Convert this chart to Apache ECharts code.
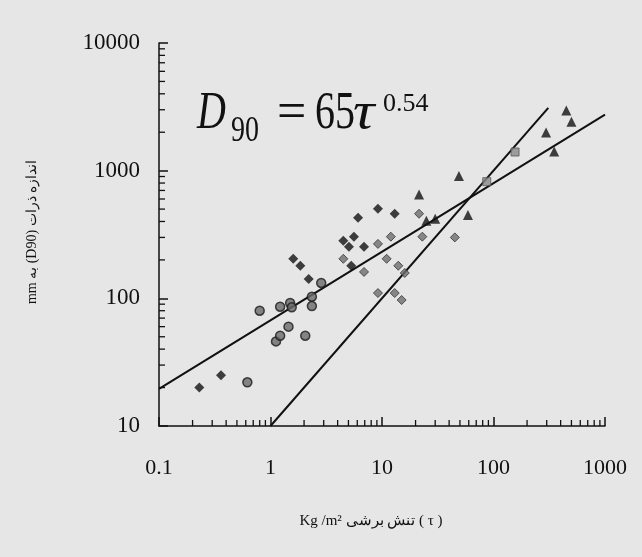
<!DOCTYPE html>
<html>
<head>
<meta charset="utf-8">
<script src="https://cdn.jsdelivr.net/npm/echarts@6/dist/echarts.min.js"></script>
<style>
html,body{margin:0;padding:0;background:#e6e6e6;}
#c{width:642px;height:557px;}
</style>
</head>
<body>
<div id="c"></div>
<script>
// ---- data (tau in Kg/m2, D90 in mm) ----
const circlePts = [[0.62,22],[0.8,80],[1.12,46],[1.22,51],[1.22,86],[1.45,60],[1.5,92],[1.55,85],[2.05,51],[2.35,103],[2.35,87],[2.85,132]];
const diamondPts = [[0.23,20],[0.36,25],[1.6,204],[1.85,180],[2.2,142],[4.5,282],[5.05,253],[5.6,304],[6.1,428],[9.2,503],[13,460],[6.9,253],[5.3,180]];
const grayPts = [[4.5,204],[6.9,161],[9.2,267],[12,304],[11,204],[14,180],[16,158],[9.2,110],[13,110],[15,97],[21.5,460],[23,304],[45,300]];
const squarePts = [[87,820],[156,1400]];
const trianglePts = [[21.5,650],[25,405],[30,420],[49,910],[59,450],[296,1990],[350,1410],[450,2960],[500,2420]];
const fitLineA = [[0.1,19.5],[1000,2750]];   // D90 = 65 tau^0.54
const fitLineB = [[1,10],[310,3100]];
const xMinorTicks = [0.2,0.3,0.4,0.5,0.6,0.7,0.8,0.9,2,3,4,5,6,7,8,9,20,30,40,50,60,70,80,90,200,300,400,500,600,700,800,900];
const yMinorTicks = [20,30,40,50,60,70,80,90,200,300,400,500,600,700,800,900,2000,3000,4000,5000,6000,7000,8000,9000];
const xName = 'Kg /m² تنش برشی ( τ )';
const yName = 'mm به (D90) اندازه ذرات';

const serif = 'Liberation Serif, DejaVu Serif, serif';
const chart = echarts.init(document.getElementById('c'));

const axisCommon = {
  type: 'log', logBase: 10,
  axisLine: {show: true, lineStyle: {color: '#111', width: 1.5}},
  axisTick: {show: true, inside: true, length: 9, lineStyle: {color: '#111', width: 1.5}},
  splitLine: {show: false}
};

function tickItem(isX, len) {
  return function (params, api) {
    const p = api.coord([api.value(0), api.value(1)]);
    return {
      type: 'line',
      shape: isX ? {x1: p[0], y1: p[1], x2: p[0], y2: p[1] - len}
                 : {x1: p[0], y1: p[1], x2: p[0] + len, y2: p[1]},
      style: {stroke: '#111', lineWidth: 1.3, fill: null}
    };
  };
}

chart.setOption({
  backgroundColor: '#e6e6e6',
  animation: false,
  grid: {left: 159, right: 37, top: 43, bottom: 131, containLabel: false},
  xAxis: Object.assign({}, axisCommon, {
    min: 0.1, max: 1000,
    axisLabel: {fontFamily: serif, fontSize: 22, color: '#111', margin: 31, formatter: v => String(v)}
  }),
  yAxis: Object.assign({}, axisCommon, {
    min: 10, max: 10000,
    axisLabel: {fontFamily: serif, fontSize: 23, color: '#111', margin: 19, formatter: v => String(v)}
  }),
  series: [
    {type: 'custom', coordinateSystem: 'cartesian2d', data: xMinorTicks.map(v => [v, 10]),
     encode: {x: 0, y: 1}, renderItem: tickItem(true, 6), clip: false, silent: true, z: 5},
    {type: 'custom', coordinateSystem: 'cartesian2d', data: yMinorTicks.map(v => [0.1, v]),
     encode: {x: 0, y: 1}, renderItem: tickItem(false, 6), clip: false, silent: true, z: 5},
    {type: 'line', data: fitLineA, symbol: 'none', lineStyle: {color: '#111', width: 2}, z: 3, silent: true},
    {type: 'line', data: fitLineB, symbol: 'none', lineStyle: {color: '#111', width: 2}, z: 3, silent: true},
    {type: 'scatter', data: circlePts, symbol: 'circle', symbolSize: 9,
     itemStyle: {color: '#6a6a6a', borderColor: '#1a1a1a', borderWidth: 1.5}, z: 4},
    {type: 'scatter', data: diamondPts, symbol: 'diamond', symbolSize: 10,
     itemStyle: {color: '#111'}, z: 4},
    {type: 'scatter', data: grayPts, symbol: 'diamond', symbolSize: 9,
     itemStyle: {color: '#6e6e6e', borderColor: '#333', borderWidth: 1}, z: 4},
    {type: 'scatter', data: squarePts, symbol: 'rect', symbolSize: 8,
     itemStyle: {color: '#8a8a8a', borderColor: '#555', borderWidth: 1}, z: 4},
    {type: 'scatter', data: trianglePts, symbol: 'triangle', symbolSize: 10,
     itemStyle: {color: '#111'}, z: 4}
  ],
  graphic: [
    {type: 'text', x: 197, y: 114, scaleY: 1.3, style: {text: 'D', font: 'italic 40px ' + serif, fill: '#111', verticalAlign: 'middle'}},
    {type: 'text', x: 231, y: 131, scaleY: 1.3, style: {text: '90', font: '28px ' + serif, fill: '#111', verticalAlign: 'middle'}},
    {type: 'text', x: 277, y: 114, scaleY: 1.3, scaleX: 1.3, style: {text: '=', font: '40px ' + serif, fill: '#111', verticalAlign: 'middle'}},
    {type: 'text', x: 315, y: 114, scaleY: 1.3, style: {text: '65', font: '40px ' + serif, fill: '#111', verticalAlign: 'middle'}},
    {type: 'text', x: 353, y: 114, scaleY: 1.3, scaleX: 1.5, style: {text: 'τ', font: 'italic 40px ' + serif, fill: '#111', verticalAlign: 'middle'}},
    {type: 'text', x: 383, y: 104, style: {text: '0.54', font: '26px ' + serif, fill: '#111', verticalAlign: 'middle'}},
    {type: 'text', x: 371, y: 521, style: {text: xName, font: '15px ' + serif, fill: '#111', align: 'center', verticalAlign: 'middle'}},
    {type: 'text', x: 32, y: 232, rotation: Math.PI / 2, style: {text: yName, font: '14px ' + serif, fill: '#111', align: 'center', verticalAlign: 'middle'}}
  ]
});
</script>
</body>
</html>
